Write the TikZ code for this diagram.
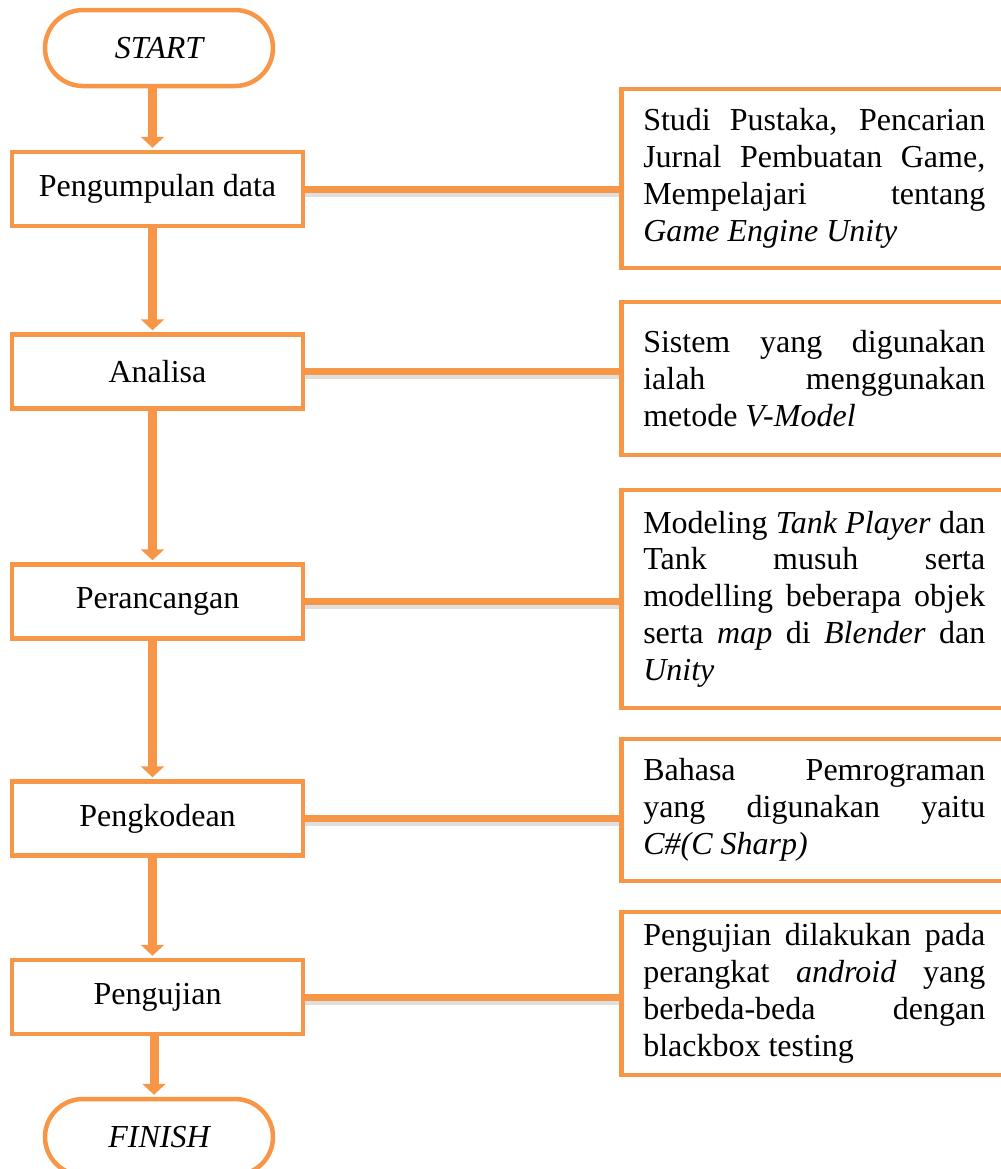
\documentclass[tikz,border=0pt]{standalone}
\usepackage{fontspec}
\setmainfont{Liberation Serif}
\usetikzlibrary{arrows.meta}
\definecolor{flowline}{HTML}{F79646}
\newcommand{\flowfont}{\fontsize{16pt}{18.4pt}\selectfont}
\tolerance=10000
\hyphenpenalty=10000
\tikzset{
stepbox/.style={draw=flowline, line width=2.25pt, fill=white, minimum width=145.5pt, minimum height=37pt, inner sep=0pt, font=\flowfont},
endbox/.style={draw=flowline, line width=2.25pt, fill=white, rounded corners=19pt, minimum width=114pt, minimum height=38pt, inner sep=0pt, font=\flowfont\itshape},
notebox/.style={draw=flowline, line width=2.25pt, fill=white, anchor=west, text width=171pt, inner xsep=11pt, inner ysep=0pt, align=justify, font=\flowfont},
flow/.style={draw=flowline, line width=4.5pt, -{Triangle[width=11.5pt,length=5.5pt]}},
link/.style={draw=flowline, line width=3.5pt},
linkshadow/.style={draw=black!70, opacity=0.18, line width=3.5pt}
}
\begin{document}
\begin{tikzpicture}[x=0.5pt,y=-0.5pt]
\useasboundingbox (0,0) rectangle (1001,1169) ;
\clip (0,0) rectangle (1001,1169) ;
\node [endbox] (start) at (159,48) {START} ;
\node [stepbox] (collect) at (157.5,189) {Pengumpulan data} ;
\node [stepbox] (analyse) at (157.5,371.5) {Analisa} ;
\node [stepbox] (design) at (157.5,601.5) {Perancangan} ;
\node [stepbox] (code) at (157.5,818.5) {Pengkodean} ;
\node [stepbox] (test) at (157.5,997) {Pengujian} ;
\node [endbox] (finish) at (159,1137) {FINISH} ;
\node [notebox, minimum height=89.5pt] (collectnote) at (619,178.5)
{Studi Pustaka, Pencarian\linebreak Jurnal Pembuatan Game,\linebreak Mempelajari tentang\linebreak \textit{Game Engine Unity}} ;
\node [notebox, minimum height=76.5pt] (analysenote) at (619,378.5)
{Sistem yang digunakan\linebreak ialah menggunakan\linebreak metode \textit{V-Model}} ;
\node [notebox, minimum height=109pt] (designnote) at (619,599)
{Modeling \textit{Tank Player} dan\linebreak Tank musuh serta\linebreak modelling beberapa objek\linebreak serta \textit{map} di \textit{Blender} dan\linebreak \textit{Unity}} ;
\node [notebox, minimum height=71pt] (codenote) at (619,810)
{Bahasa Pemrograman\linebreak yang digunakan yaitu\linebreak \textit{C\#(C Sharp)}} ;
\node [notebox, minimum height=81.5pt] (testnote) at (619,993.5)
{Pengujian dilakukan pada\linebreak perangkat \textit{android} yang\linebreak berbeda-beda dengan\linebreak blackbox testing} ;
\foreach \a/\b in {start/collect, collect/analyse, analyse/design, design/code, code/test, test/finish}
\draw [flow] ([xshift=-2.5pt]\b.north |- \a.south) -- ([xshift=-2.5pt,yshift=1pt]\b.north) ;
\foreach \a in {collect, analyse, design, code, test} {
\draw [linkshadow] ([yshift=-2pt]\a.east) -- ([yshift=-2pt]\a.east -| \a note.west) ;
\draw [link] (\a.east) -- (\a.east -| \a note.west) ;
}
\end{tikzpicture}
\end{document}
